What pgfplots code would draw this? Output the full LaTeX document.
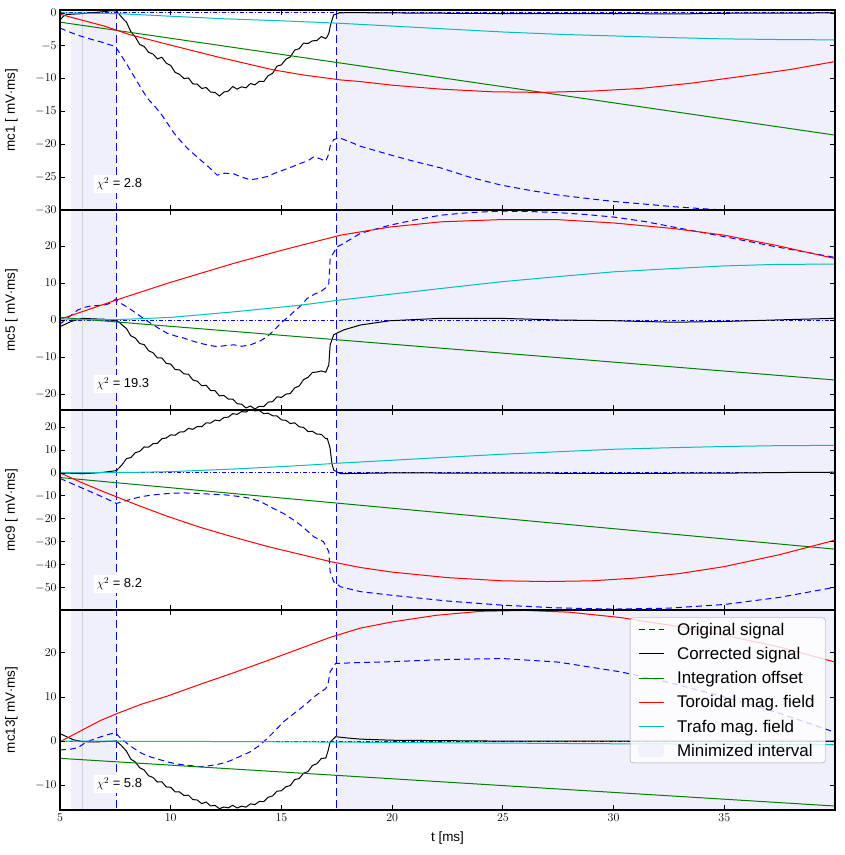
\documentclass[border=0pt]{standalone}
\usepackage{fontspec}
\setmainfont{Liberation Sans}
\usepackage{pgfplots}
\pgfplotsset{compat=1.18}
\definecolor{shadecol}{RGB}{240,240,252}
\definecolor{mgreen}{RGB}{0,128,0}
\definecolor{mcyan}{RGB}{0,191,191}

\pgfplotsset{
  panel/.style={
    scale only axis, width=775bp, height=200bp, axis on top,
    xmin=5, xmax=40, xtick={5,10,...,35}, xticklabels={},
    tick align=inside, major tick length=5bp,
    axis line style={line width=1.1bp},
    every tick/.style={black, line width=0.8bp},
    tick label style={font=\fontsize{12.5}{14}\selectfont},
    label style={font=\fontsize{13.5}{16}\selectfont},
    ylabel style={at={(axis description cs:-0.05,0.5)}, anchor=south},
  },
  orig/.style={blue, line width=1bp, dash pattern=on 6bp off 4bp},
  corr/.style={black, line width=1bp},
  offs/.style={mgreen, line width=1bp},
  tor/.style={red, line width=1bp},
  trafo/.style={mcyan, line width=1bp},
}

% shaded intervals, interval borders and zero line, common to every panel
\newcommand{\background}{%
  \addplot[fill=shadecol, draw=none, forget plot] coordinates {(5.5,-200) (7.55,-200) (7.55,200) (5.5,200)};
  \addplot[fill=shadecol, draw=none, forget plot] coordinates {(17.5,-200) (40,-200) (40,200) (17.5,200)};
  \addplot[gray!35, line width=0.8bp, forget plot] coordinates {(6,-200) (6,200)};
  \addplot[blue, line width=1bp, dash pattern=on 8bp off 4bp, forget plot] coordinates {(7.55,-200) (7.55,200)};
  \addplot[blue, line width=1bp, dash pattern=on 8bp off 4bp, forget plot] coordinates {(17.5,-200) (17.5,200)};
  \addplot[blue, line width=0.9bp, dash pattern=on 4bp off 2bp on 1bp off 2bp, forget plot] coordinates {(5,0) (40,0)};
}
\newcommand{\chilabel}[1]{%
  \node[fill=white, inner sep=2.5bp, anchor=west, font=\fontsize{13}{15}\selectfont]
    at (axis description cs:0.044,0.13) {$\chi^2$ = #1};
}

\begin{document}
\begin{tikzpicture}

% ---------------- mc1 ----------------
\begin{axis}[panel, name=p1, ymin=-30, ymax=0.45, ytick={-30,-25,...,0},
  ylabel={mc1 [ mV$\cdot$ms]}]
\background
\addplot[orig] coordinates {
 (5,-2.3) (5.5,-3.0) (6,-3.6) (6.5,-4.1) (6.84,-4.4) (7.2,-4.8) (7.5,-5.1) (7.75,-6.4)
 (8.05,-8.0) (8.35,-9.7) (8.65,-11.4) (8.95,-13.0) (9.25,-14.1) (9.55,-15.3) (9.85,-16.8)
 (10.15,-18.3) (10.45,-19.5) (10.75,-20.6) (11.05,-21.5) (11.35,-22.4) (11.7,-23.4)
 (12.1,-24.7) (12.45,-24.4) (12.85,-24.5) (13.2,-25.0) (13.6,-25.4) (14.0,-25.2)
 (14.36,-24.9) (14.7,-24.4) (15.1,-23.9) (15.5,-23.4) (15.86,-22.9) (16.2,-22.5)
 (16.46,-21.9) (16.75,-22.2) (16.99,-22.6) (17.1,-21.8) (17.2,-20.3) (17.36,-19.3)
 (17.6,-19.0) (18.0,-19.5) (18.57,-20.3) (19.9,-21.6) (21,-22.6) (22.2,-23.6)
 (23.5,-25.0) (24.9,-26.2) (26.2,-27.0) (27.45,-27.7) (28.7,-28.2) (30,-28.7)
 (31.4,-29.1) (32.7,-29.5) (34,-29.8) (35,-30.0) (37.5,-30.5) (40,-31.0)};
\addplot[corr] coordinates {
 (5,-1.1) (5.15,-0.5) (5.3,-0.25) (5.5,-0.2) (6,-0.1) (6.5,0.05) (7,0.2) (7.3,0.35)
 (7.55,0.3) (7.7,-0.3) (7.85,-0.9)
 (8.0,-1.4) (8.2,-2.85) (8.4,-3.65) (8.6,-4.8) (8.8,-5.1) (9.0,-6.0) (9.2,-6.25)
 (9.4,-7.0) (9.6,-6.75) (9.8,-7.65) (10.0,-8.0) (10.2,-9.05) (10.4,-9.35) (10.6,-10.0)
 (10.8,-9.9) (11.0,-10.8) (11.2,-10.85) (11.4,-11.5) (11.6,-11.35) (11.8,-12.05)
 (12.0,-12.1) (12.2,-12.65) (12.4,-12.05) (12.6,-11.9) (12.8,-11.2) (13.0,-11.6)
 (13.2,-11.25) (13.4,-11.4) (13.6,-10.75) (13.8,-10.95) (14.0,-10.4) (14.2,-10.45)
 (14.4,-9.55) (14.6,-9.2) (14.8,-8.1) (15.0,-7.9) (15.2,-7.05) (15.4,-6.7) (15.6,-5.65)
 (15.8,-5.45) (16.0,-4.6) (16.2,-4.65) (16.4,-4.25) (16.6,-4.2) (16.8,-3.6) (17.0,-3.9)
 (17.07,-3.6) (17.15,-3.0) (17.2,-2.1) (17.3,-0.9) (17.36,-0.3)
 (17.6,0.0) (18,0.05) (20,0.0) (25,-0.1) (30,-0.1) (33,-0.15) (35,-0.05) (40,0.0)};
\addplot[offs] coordinates {(5,-1.4) (40,-18.6)};
\addplot[tor] coordinates {
 (5,-0.2) (6,-1.1) (7,-2.0) (8.2,-3.35) (10,-4.9) (12,-6.6) (14.65,-8.68) (16,-9.45)
 (17.67,-10.2) (18.57,-10.45) (20,-11.0) (22.2,-11.6) (24.5,-12.0) (26.7,-12.1)
 (29,-11.9) (31.2,-11.5) (33.5,-10.7) (35.7,-9.7) (38,-8.6) (40,-7.4)};
\addplot[trafo] coordinates {
 (5,0) (7.6,-0.1) (10,-0.5) (12.5,-0.9) (15,-1.2) (17.5,-1.55) (20,-2.0) (22.5,-2.45)
 (25,-2.9) (27.5,-3.25) (30,-3.5) (32.5,-3.75) (35,-3.95) (37.5,-4.05) (40,-4.1)};
\chilabel{2.8}
\end{axis}

% ---------------- mc5 ----------------
\begin{axis}[panel, name=p2, at={(p1.south west)}, anchor=north west,
  ymin=-24.3, ymax=29.7, ytick={-20,-10,...,20},
  ylabel={mc5 [ mV$\cdot$ms]}]
\background
\addplot[orig] coordinates {
 (5,-1.1) (5.4,0.8) (5.8,2.7) (6.1,3.4) (6.4,3.8) (7.0,4.0) (7.3,4.6) (7.5,5.6)
 (7.75,4.5) (8.05,3.4) (8.35,2.2) (8.7,0.7) (9.1,-0.9) (9.5,-2.4) (9.85,-3.6)
 (10.2,-4.3) (10.6,-4.9) (11.0,-5.7) (11.35,-6.3) (11.7,-6.8) (12.1,-7.2) (12.5,-6.9)
 (12.85,-6.7) (13.2,-7.1) (13.6,-6.7) (14.0,-5.8) (14.36,-4.5) (14.7,-2.6) (14.96,-0.9)
 (15.3,0.8) (15.56,2.2) (15.9,4.0) (16.16,5.8) (16.5,7.0) (16.76,7.6) (17.0,8.7)
 (17.14,9.9) (17.2,16.6) (17.52,19.8) (17.67,20.2) (18.57,23.4) (19.9,25.6) (21,27.0)
 (22.2,28.3) (23.5,29.0) (24.9,29.4) (26.2,29.3) (27.45,29.0) (28.7,28.5) (30,27.8)
 (31.4,26.6) (32.7,25.1) (35,22.5) (37.3,19.8) (40,16.9)};
\addplot[corr] coordinates {
 (5,-1.8) (5.25,-1.1) (5.5,-0.4) (6.0,0.45) (6.5,0.3) (7.0,0.2) (7.5,-0.2) (7.65,-0.5)
 (7.8,-1.3)
 (8.0,-2.3) (8.2,-4.28) (8.4,-4.88) (8.6,-6.35) (8.8,-6.65) (9.0,-8.3) (9.2,-8.83)
 (9.4,-10.25) (9.6,-10.23) (9.8,-11.73) (10.0,-11.9) (10.2,-13.38) (10.4,-13.48)
 (10.6,-14.55) (10.8,-14.65) (11.0,-16.2) (11.2,-16.53) (11.4,-17.75) (11.6,-17.63)
 (11.8,-19.03) (12.0,-19.1) (12.2,-20.48) (12.4,-20.38) (12.6,-21.35) (12.8,-21.35)
 (13.0,-22.6) (13.2,-22.73) (13.4,-23.75) (13.6,-23.23) (13.8,-24.03) (14.0,-23.3)
 (14.2,-23.38) (14.4,-22.18) (14.6,-22.05) (14.8,-20.75) (15.0,-20.9) (15.2,-20.03)
 (15.4,-19.85) (15.6,-18.33) (15.8,-17.83) (16.0,-16.1) (16.2,-15.48) (16.4,-14.18)
 (16.6,-14.05) (16.8,-13.75) (17.0,-14.1)
 (17.14,-12.1) (17.2,-6.7) (17.36,-4.0)
 (17.8,-2.7) (18.57,-1.35) (19.9,-0.2) (22.2,0.45) (24.9,0.45) (27.45,0.0) (30,-0.2)
 (32.7,-0.6) (35,-0.4) (37.3,0.0) (40,0.45)};
\addplot[offs] coordinates {(5,0.7) (40,-16.2)};
\addplot[tor] coordinates {
 (5,0.2) (7.6,5.5) (9.85,9.9) (12.85,15.3) (15,18.8) (17.67,22.9) (19.9,25.1)
 (22.2,26.5) (24.9,27.1) (27.45,27.1) (30,26.2) (32.7,24.7) (35,22.9) (37.3,20.2) (40,16.6)};
\addplot[trafo] coordinates {
 (5,0.3) (6,0.1) (7.6,0.1) (10,0.7) (12.85,2.2) (15.86,4.0) (17.67,5.4) (20,7.0)
 (22.2,8.5) (24.9,10.3) (27.45,11.7) (30,13.0) (32.7,13.9) (35,14.6) (37.3,15.0) (40,15.1)};
\chilabel{19.3}
\end{axis}

% ---------------- mc9 ----------------
\begin{axis}[panel, name=p3, at={(p2.south west)}, anchor=north west,
  ymin=-59.7, ymax=27.4, ytick={-50,-40,...,20},
  ylabel={mc9 [ mV$\cdot$ms]}]
\background
\addplot[orig] coordinates {
 (5,-2.4) (5.5,-4.5) (6,-6.6) (6.5,-8.7) (7,-10.8) (7.55,-13.3) (7.9,-12.3) (8.35,-11.1)
 (8.7,-10.3) (9.1,-9.7) (9.5,-9.3) (9.85,-9.0) (10.2,-8.8) (10.6,-8.7) (11.0,-8.9)
 (11.35,-9.0) (11.7,-9.2) (12.1,-9.4) (12.5,-9.6) (12.85,-10.0) (13.2,-10.4) (13.6,-11.1)
 (14.0,-12.3) (14.36,-14.0) (14.7,-15.8) (15.1,-17.7) (15.5,-20.2) (15.86,-22.7)
 (16.2,-25.5) (16.46,-27.8) (16.7,-28.9) (16.9,-30.0) (17.14,-34.3) (17.2,-43.0)
 (17.36,-47.4) (17.67,-49.6) (18.57,-51.7) (20,-53.3) (22.5,-55.8) (25,-57.6)
 (27.5,-58.8) (30,-59.3) (32.5,-58.9) (35,-57.3) (37.5,-54.2) (40,-49.8)};
\addplot[corr] coordinates {
 (5,0.0) (6,-0.3) (6.5,-0.1) (7,0.3) (7.55,1.0) (7.8,3.5)
 (8.0,6.2) (8.2,6.7) (8.4,8.8) (8.6,9.4) (8.8,11.3) (9.0,11.2) (9.2,12.7) (9.4,12.9)
 (9.6,14.9) (9.8,15.2) (10.0,16.6) (10.2,16.4) (10.4,17.8) (10.6,17.9) (10.8,19.4)
 (11.0,19.0) (11.2,20.2) (11.4,20.1) (11.6,21.8) (11.8,21.7) (12.0,23.0) (12.2,22.7)
 (12.4,24.1) (12.6,24.3) (12.8,25.8) (13.0,25.5) (13.2,26.7) (13.4,26.5) (13.6,27.9)
 (13.8,27.0) (14.0,27.2) (14.2,25.8) (14.4,26.0) (14.6,24.9) (14.8,24.8) (15.0,23.1)
 (15.2,22.9) (15.4,21.5) (15.6,21.8) (15.8,20.1) (16.0,19.8) (16.2,18.0) (16.4,18.1)
 (16.6,16.9) (16.8,16.8) (17.0,14.9)
 (17.07,15.0) (17.15,12.5) (17.2,10.6)
 (17.28,4.1) (17.36,1.2) (17.67,-0.3) (18.5,-0.2) (20,0.0) (25,-0.1) (30,-0.2) (35,-0.1)
 (38,0.2) (40,0.3)};
\addplot[offs] coordinates {(5,-2.0) (40,-33.2)};
\addplot[tor] coordinates {
 (5,0) (6,-4.3) (7,-8.3) (7.6,-10.6) (8.6,-14.4) (9.85,-18.9) (11.3,-23.6) (12.85,-28.0)
 (14.4,-32.1) (15.86,-35.5) (17.2,-38.6) (18.57,-41.2) (20,-43.2) (22.5,-45.6) (25,-47.0)
 (27,-47.3) (29,-47.0) (31,-45.8) (33,-43.8) (35,-40.8) (37.5,-35.6) (40,-29.3)};
\addplot[trafo] coordinates {
 (5,0.2) (6,0.1) (7.6,0.1) (10,0.55) (12.85,1.7) (15.86,3.2) (17.67,4.3) (20,5.5)
 (22.2,6.7) (24.9,8.1) (27.45,9.2) (30,10.3) (32.7,11.0) (35,11.5) (37.3,11.85) (40,12.0)};
\chilabel{8.2}
\end{axis}

% ---------------- mc13 ----------------
\begin{axis}[panel, name=p4, at={(p3.south west)}, anchor=north west,
  ymin=-15.6, ymax=29.7, ytick={-10,0,10,20},
  xticklabels={$5$,$10$,$15$,$20$,$25$,$30$,$35$},
  xlabel={t [ms]},
  xlabel style={at={(axis description cs:0.5,-0.14)}, anchor=center},
  ylabel={mc13[ mV$\cdot$ms]},
  legend image code/.code={\draw[#1] (0bp,0bp) -- (25bp,0bp); \path (35bp,0bp);},
  legend style={at={(axis description cs:0.988,0.962)}, anchor=north east,
    draw=gray!80, rounded corners=3bp, fill=white, fill opacity=0.8, text opacity=1,
    font=\fontsize{17}{19}\selectfont, inner xsep=8bp, inner ysep=2bp,
    row sep=4.5bp, nodes={inner sep=3bp}, cells={anchor=west}}]
\background
\addplot[orig] coordinates {
 (5,-2.0) (5.5,-1.8) (5.8,-1.5) (6.1,-0.5) (6.4,0.2) (6.8,0.9) (7.1,1.4) (7.5,1.9)
 (7.75,0.6) (8.05,-0.6) (8.35,-1.7) (8.7,-2.8) (9.1,-3.6) (9.5,-4.2) (9.85,-4.7)
 (10.2,-5.1) (10.6,-5.4) (11.0,-5.6) (11.35,-5.8) (11.7,-5.6) (12.1,-5.3) (12.5,-4.8)
 (12.85,-4.1) (13.2,-3.3) (13.6,-2.4) (14.0,-1.0) (14.36,0.6) (14.7,2.3) (15.1,4.4)
 (15.5,6.0) (15.86,7.4) (16.2,8.8) (16.46,10.0) (16.75,11.0) (17.0,11.9) (17.1,12.8)
 (17.2,15.7) (17.45,17.6) (18.57,17.8) (20,18.0) (22.5,18.5) (25,18.7) (27.5,17.9)
 (30.3,15.7) (32.5,13.3) (35,10.0) (37.5,6.3) (40,2.0)};
\addlegendentry{Original signal}
\addplot[corr] coordinates {
 (5,1.7) (5.3,1.0) (5.6,0.3) (6,-0.1) (6.5,-0.2) (7,-0.1) (7.55,0.0) (7.75,-0.9)
 (8.0,-2.26) (8.2,-4.1) (8.4,-4.72) (8.6,-6.02) (8.8,-6.54) (9.0,-7.84) (9.2,-8.24)
 (9.4,-9.26) (9.6,-9.2) (9.8,-10.38) (10.0,-10.46) (10.2,-11.5) (10.4,-11.52)
 (10.6,-12.32) (10.8,-12.24) (11.0,-13.24) (11.2,-13.34) (11.4,-14.16) (11.6,-13.8)
 (11.8,-14.68) (12.0,-14.56) (12.2,-15.3) (12.4,-14.92) (12.6,-15.12) (12.8,-14.54)
 (13.0,-15.14) (13.2,-14.74) (13.4,-14.96) (13.6,-14.2) (13.8,-14.38) (14.0,-13.66)
 (14.2,-13.7) (14.4,-12.72) (14.6,-12.42) (14.8,-11.34) (15.0,-11.24) (15.2,-10.34)
 (15.4,-10.06) (15.6,-8.7) (15.8,-8.48) (16.0,-7.26) (16.2,-6.9) (16.4,-5.52)
 (16.6,-5.12) (16.8,-3.94) (17.0,-3.84)
 (17.1,-2.3) (17.2,-0.2) (17.45,1.0) (18.0,0.7)
 (18.57,0.45) (20,0.2) (25,0.0) (30,0.0) (35,0.0) (40,0.0)};
\addlegendentry{Corrected signal}
\addplot[offs] coordinates {(5,-3.9) (40,-14.7)};
\addlegendentry{Integration offset}
\addplot[tor] coordinates {
 (5,-0.15) (6,2.5) (6.84,4.7) (7.6,6.3) (8.7,8.4) (9.85,10.2) (11.35,12.9) (12.85,15.5)
 (14.35,18.2) (15.86,21.0) (17.2,23.5) (18.57,25.6) (20,27.0) (22,28.5) (24,29.4)
 (26,29.6) (28,29.2) (30.3,28.0) (33,25.9) (35,24.0) (37.5,21.3) (40,17.9)};
\addlegendentry{Toroidal mag.\ field}
\addplot[trafo] coordinates {
 (5,0.0) (10,-0.05) (15,-0.15) (20,-0.3) (25,-0.45) (30,-0.6) (35,-0.7) (40,-0.8)};
\addlegendentry{Trafo mag.\ field}
\addlegendimage{legend image code/.code={\fill[shadecol] (0bp,-6bp) rectangle (25bp,6bp); \path (35bp,0bp);}}
\addlegendentry{Minimized interval}
\chilabel{5.8}
\end{axis}

\pgfresetboundingbox
\path ([xshift=-60bp,yshift=-45bp]p4.south west) rectangle ([xshift=9bp,yshift=10bp]p1.north east);
\end{tikzpicture}
\end{document}
